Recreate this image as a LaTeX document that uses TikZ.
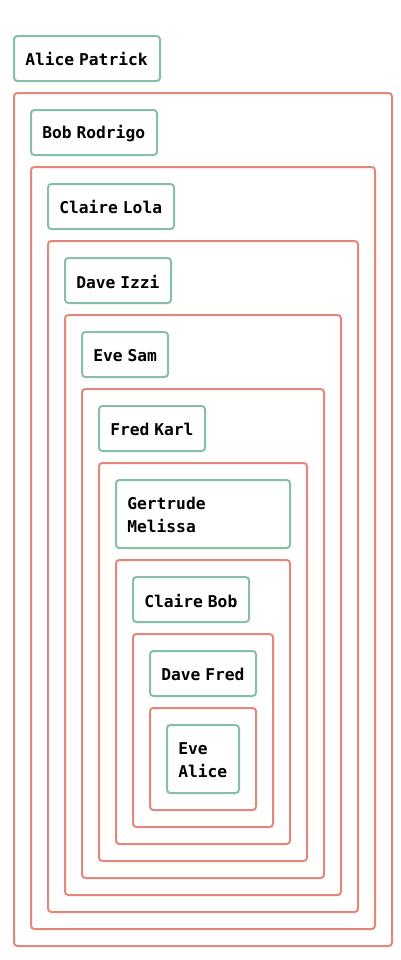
\documentclass[tikz,border=0pt]{standalone}
\usepackage{fontspec}
\setmonofont[WordSpace=0.5]{DejaVu Sans Mono}
\definecolor{gline}{HTML}{86BFA5}
\definecolor{rline}{HTML}{E4877A}
\begin{document}
\begin{tikzpicture}[x=0.75pt,y=-0.75pt,
  gbox/.style={draw=gline,line width=1.5pt,rounded corners=2.5pt},
  rbox/.style={draw=rline,line width=1.5pt,rounded corners=2.5pt},
  lbl/.style={anchor=west,inner sep=0pt,font=\ttfamily\bfseries\fontsize{12.2pt}{17.25pt}\selectfont,align=left}]
\useasboundingbox[fill=white] (0,0) rectangle (400,960);
% red containers
\draw[rbox] (14,93) rectangle (392,946);
\draw[rbox] (31,167) rectangle (375,929);
\draw[rbox] (48,241) rectangle (358,912);
\draw[rbox] (65,315) rectangle (341,895);
\draw[rbox] (82,389) rectangle (324,878);
\draw[rbox] (99,463) rectangle (307,861);
\draw[rbox] (116,560) rectangle (290,844);
\draw[rbox] (133,634) rectangle (273,827);
\draw[rbox] (150,708) rectangle (256,810);
% green boxes
\draw[gbox] (14,36) rectangle (160,81);
\node[lbl] (n1) at (25,59.5) {Alice Patrick};
\draw[gbox] (31,110) rectangle (157,155);
\node[lbl] (n2) at (42,133.5) {Bob Rodrigo};
\draw[gbox] (48,184) rectangle (174,229);
\node[lbl] (n3) at (59,207.5) {Claire Lola};
\draw[gbox] (65,258) rectangle (171,303);
\node[lbl] (n4) at (76,281.5) {Dave Izzi};
\draw[gbox] (82,332) rectangle (168,377);
\node[lbl] (n5) at (93,355.5) {Eve Sam};
\draw[gbox] (99,406) rectangle (205,451);
\node[lbl] (n6) at (110,429.5) {Fred Karl};
\draw[gbox] (116,480) rectangle (290,548);
\node[lbl] (n7) at (127,515) {Gertrude\\Melissa};
\draw[gbox] (133,577) rectangle (249,622);
\node[lbl] (n8) at (144,600.5) {Claire Bob};
\draw[gbox] (150,651) rectangle (256,696);
\node[lbl] (n9) at (161,674.5) {Dave Fred};
\draw[gbox] (167,725) rectangle (239,793);
\node[lbl] (n10) at (178,760) {Eve\\Alice};
\end{tikzpicture}
\end{document}
